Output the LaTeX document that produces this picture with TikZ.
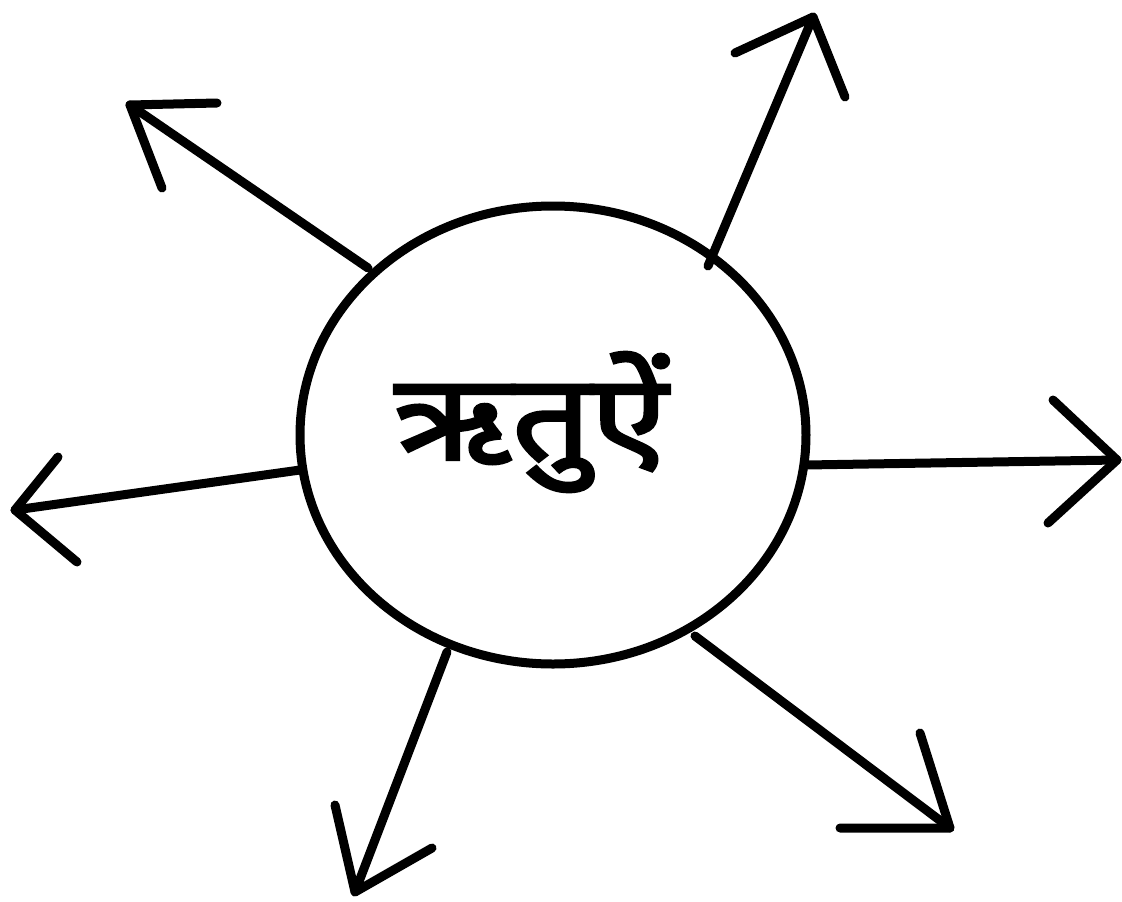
\documentclass[tikz,border=0pt]{standalone}
\usepackage{fontspec}
\usetikzlibrary{shapes.geometric}
\newfontfamily\devfont[Script=Devanagari,FakeBold=2.5]{Noto Sans}
\begin{document}
\begin{tikzpicture}[x=1pt,y=-1pt,
  stroke/.style={line width=9pt,line cap=round,line join=round},
  ring/.style={draw,ellipse,line width=9pt,minimum width=506pt,minimum height=458pt,inner sep=0pt}]
\useasboundingbox (0,0) rectangle (1122,902);
\node[ring] (c) at (553,435) {};
\node (lbl) at (531,422) {\scalebox{1.15}[1]{\devfont\fontsize{120}{130}\selectfont ऋतुऐं}};
% line starts on circle and tips
\coordinate (s1) at (368,268); \coordinate (t1) at (130,105);
\coordinate (a1) at (217,103); \coordinate (b1) at (162,188);
\coordinate (s2) at (708,266); \coordinate (t2) at (813,17);
\coordinate (a2) at (735,53);  \coordinate (b2) at (845,97);
\coordinate (s3) at (806,465); \coordinate (t3) at (1117,460);
\coordinate (a3) at (1053,400); \coordinate (b3) at (1048,523);
\coordinate (s4) at (300,470); \coordinate (t4) at (15,510);
\coordinate (a4) at (58,457);  \coordinate (b4) at (77,562);
\coordinate (s5) at (447,652); \coordinate (t5) at (355,892);
\coordinate (a5) at (335,805); \coordinate (b5) at (432,848);
\coordinate (s6) at (695,636); \coordinate (t6) at (950,828);
\coordinate (a6) at (920,733); \coordinate (b6) at (840,828);
\foreach \i in {1,...,6}{
  \draw[stroke] (s\i) -- (t\i);
  \draw[stroke] (a\i) -- (t\i) -- (b\i);
}
\end{tikzpicture}
\end{document}
